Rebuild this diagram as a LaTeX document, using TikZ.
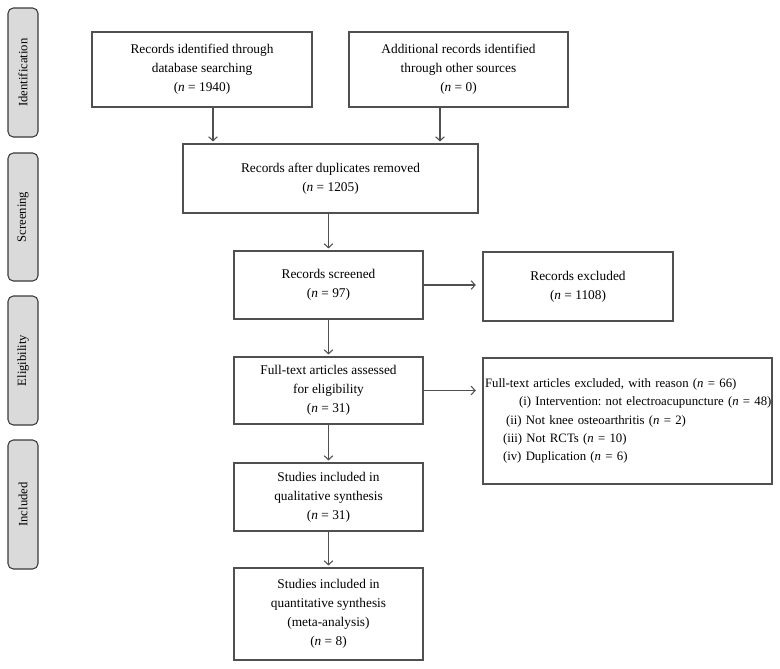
\documentclass[tikz,border=0pt]{standalone}
\usepackage{fontspec}
\setmainfont{Liberation Serif}
\usetikzlibrary{arrows.meta}
\definecolor{linegray}{HTML}{505050}
\definecolor{tabfill}{HTML}{DADADA}
\definecolor{tabborder}{HTML}{3A3A3A}
\newcommand{\nn}{\textit{n}}
\frenchspacing
\begin{document}
\begin{tikzpicture}[x=0.75pt,y=-0.75pt,
  box/.style={draw=linegray, line width=0.8pt, inner sep=0pt, align=center,
    font=\fontsize{10}{14.25}\selectfont\frenchspacing, text=black},
  tab/.style={draw=tabborder, fill=tabfill, line width=0.8pt, rounded corners=4pt,
    rotate=90, inner sep=0pt, minimum height=22.5pt,
    font=\fontsize{9.5}{11}\selectfont, text=black},
  arr/.style={draw=linegray, line width=0.8pt, -{Straight Barb[length=3pt,width=6.5pt]}, shorten >=1.5pt}
]
\useasboundingbox (0,0) rectangle (780,668);

% stage tabs
\node[tab, minimum width=96.75pt] (t1) at (23,72.5) {Identification};
\node[tab, minimum width=96pt] (t2) at (23,217) {Screening};
\node[tab, minimum width=96.75pt] (t3) at (23,360.5) {Eligibility};
\node[tab, minimum width=96.75pt] (t4) at (23,504.5) {Included};

% boxes
\node[box, minimum width=165pt, minimum height=56.25pt] (A) at (202,69.5)
  {Records identified through\\database searching\\(\nn{} = 1940)};
\node[box, minimum width=164.25pt, minimum height=56.25pt] (B) at (458.5,69.5)
  {Additional records identified\\through other sources\\(\nn{} = 0)};
\node[box, minimum width=221.25pt, minimum height=51.75pt] (C) at (330.5,178.5)
  {Records after duplicates removed\\(\nn{} = 1205)};
\node[box, minimum width=141.75pt, minimum height=51pt] (D) at (328.5,285)
  {Records screened\\(\nn{} = 97)};
\node[box, minimum width=142.5pt, minimum height=51.75pt] (E1) at (578,286.5)
  {Records excluded\\(\nn{} = 1108)};
\node[box, minimum width=141.75pt, minimum height=50.25pt] (F) at (328.5,390.5)
  {Full-text articles assessed\\for eligibility\\(\nn{} = 31)};
\node[box, align=left, inner xsep=1.5pt, text width=213.75pt, minimum height=94.5pt,
  font=\fontsize{9.6}{13.7}\selectfont\frenchspacing] (E2) at (627.5,421)
  {\mbox{Full-text articles excluded, with reason (\nn{} = 66)}\\
   \mbox{\hspace*{25.5pt}(i) Intervention: not electroacupuncture (\nn{} = 48)}\\
   \mbox{\hspace*{15.75pt}(ii) Not knee osteoarthritis (\nn{} = 2)}\\
   \mbox{\hspace*{13.5pt}(iii) Not RCTs (\nn{} = 10)}\\
   \mbox{\hspace*{13.5pt}(iv) Duplication (\nn{} = 6)}};
\node[box, minimum width=141.75pt, minimum height=51pt] (Q) at (328.5,497)
  {Studies included in\\qualitative synthesis\\(\nn{} = 31)};
\node[box, minimum width=141.75pt, minimum height=69pt] (M) at (328.5,614)
  {Studies included in\\quantitative synthesis\\(meta-analysis)\\(\nn{} = 8)};

% connectors
\coordinate (ax) at (213,0);
\coordinate (bx) at (440,0);
\draw[arr] (A.south -| ax) -- (C.north -| ax);
\draw[arr] (B.south -| bx) -- (C.north -| bx);
\draw[arr] (C.south -| D.north) -- (D.north);
\draw[arr, shorten >=5pt] (D.east) -- (D.east -| E1.west);
\draw[arr] (D.south) -- (F.north);
\draw[arr, shorten >=5pt] (F.east) -- (F.east -| E2.west);
\draw[arr] (F.south) -- (Q.north);
\draw[arr] (Q.south) -- (M.north);
\end{tikzpicture}
\end{document}
